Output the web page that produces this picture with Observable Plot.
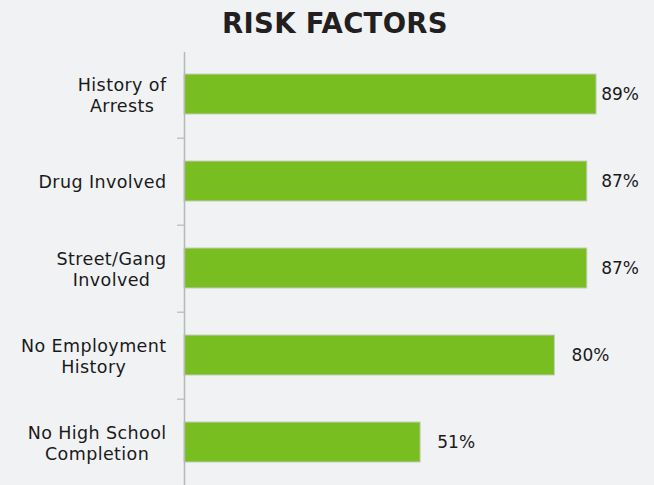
<!DOCTYPE html>
<html>
<head>
<meta charset="utf-8">
<script src="https://cdn.jsdelivr.net/npm/d3@7"></script>
<script src="https://cdn.jsdelivr.net/npm/@observablehq/plot@0.6"></script>
<style>
  html, body { margin: 0; padding: 0; background: #f1f2f4; width: 654px; height: 485px; overflow: hidden; }
  #title { height: 52px; box-sizing: border-box; padding-top: 7px; padding-left: 16px; text-align: center;
    font-family: "DejaVu Sans", sans-serif; font-weight: 700; font-size: 27.5px; color: #231f20; letter-spacing: 0.3px; line-height: 32px; }
  #chart svg { display: block; }
</style>
</head>
<body>
<div id="title">RISK FACTORS</div>
<div id="chart"></div>
<script>
const categories = ["History of Arrests", "Drug Involved", "Street/Gang Involved", "No Employment History", "No High School Completion"];
const tickLabels = ["History of\nArrests", "Drug Involved", "Street/Gang\nInvolved", "No Employment\nHistory", "No High School\nCompletion"];
const values = [89, 87, 87, 80, 51];

const data = categories.map((c, i) => ({category: c, value: values[i]}));
const font = "'DejaVu Sans', sans-serif";

const chart = Plot.plot({
  width: 654,
  height: 433,
  marginLeft: 184,
  marginRight: 7,
  marginTop: 0,
  marginBottom: 0,
  style: {background: "transparent", fontFamily: font, overflow: "visible"},
  x: {domain: [0, 100], axis: null},
  y: {domain: categories, range: [-2.5, 435], paddingInner: 0.54, paddingOuter: 0.27, axis: null},
  marks: [
    Plot.barX(data, {x: "value", y: "category", fill: "#78be21", stroke: "#c6cbbf", strokeWidth: 1}),
    Plot.text(data, {x: d => Math.min(d.value + 3.6, 90), y: "category", text: d => d.value + "%",
      textAnchor: "start", fontSize: 17, fill: "#1a1a1a"}),
    Plot.ruleY(categories.slice(0, 4), {y: d => d, x1: -1.5, x2: 0, dy: 43.75, stroke: "#c4c4c4", strokeWidth: 1.5}),
    Plot.ruleX([0], {stroke: "#b8b8b8", strokeWidth: 1.5}),
    Plot.axisY({tickSize: 0, tickPadding: 18, fontSize: 17.5, lineHeight: 1.2, fill: "#1a1a1a", label: null,
      tickFormat: d => tickLabels[categories.indexOf(d)]})
  ]
});
document.getElementById("chart").appendChild(chart);

// center multi-line tick labels within their block (block stays right-aligned)
chart.querySelectorAll('g[aria-label="y-axis tick label"] text').forEach(t => {
  t.setAttribute("letter-spacing", "0.4");
  const spans = t.querySelectorAll("tspan");
  if (spans.length < 2) return;
  let w = 0;
  spans.forEach(s => { w = Math.max(w, s.getComputedTextLength()); });
  t.setAttribute("text-anchor", "middle");
  spans.forEach(s => s.setAttribute("x", -w / 2));
});
</script>
</body>
</html>
